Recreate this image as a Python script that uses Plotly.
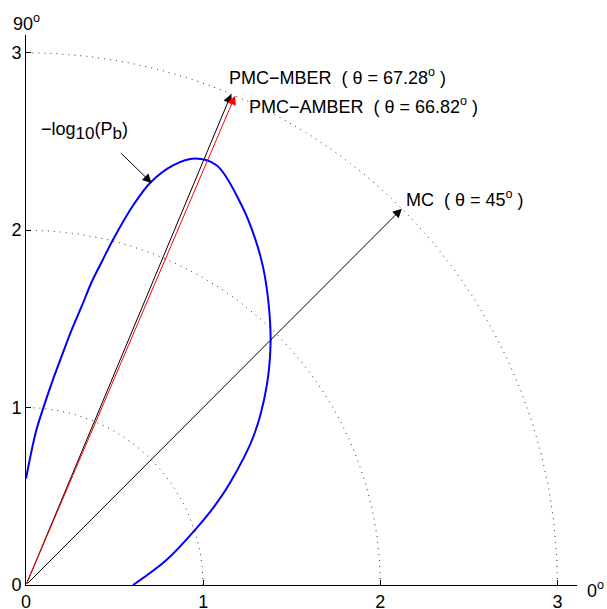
import numpy as np
import plotly.graph_objects as go

# -log10(Pb) versus beamforming angle (degrees)
theta_deg = [0.0, 10.09, 18.16, 22.50, 26.49, 33.17, 39.44, 44.58, 49.04, 53.27, 56.83,
             60.38, 65.55, 68.38, 70.67, 72.77, 74.20, 75.83, 76.75, 77.76, 78.69,
             79.85, 81.06, 82.52, 84.28, 86.34, 90.0]
neg_log_pb = [0.604, 0.805, 1.007, 1.147, 1.285, 1.535, 1.758, 1.938, 2.090, 2.237, 2.353,
              2.462, 2.599, 2.586, 2.507, 2.377, 2.226, 2.009, 1.876, 1.746, 1.601,
              1.459, 1.313, 1.168, 1.013, 0.862, 0.600]

# Arrow directions
arrow_names = ["MC", "PMC\u2212MBER", "PMC\u2212AMBER"]
arrow_theta = [45, 67.28, 66.82]
arrow_theta_text = ["45", "67.28", "66.82"]
arrow_len = [3, 3, 3]
arrow_colors = ["black", "black", "red"]

grid_radii = [1, 2, 3]
tick_vals = [0, 1, 2, 3]

FONT = "Liberation Sans, Arial, Helvetica, sans-serif"

fig = go.Figure()

# dotted range rings
phi = np.linspace(0, np.pi / 2, 200)
for rr in grid_radii:
    fig.add_trace(go.Scatter(x=rr * np.cos(phi), y=rr * np.sin(phi), mode="lines",
                             line=dict(color="#333333", width=1, dash="1px,5px"),
                             hoverinfo="skip", showlegend=False))

th = np.radians(theta_deg)
r = np.array(neg_log_pb)
fig.add_trace(go.Scatter(x=r * np.cos(th), y=r * np.sin(th), mode="lines",
                         line=dict(color="#0000ff", width=2, shape="spline", smoothing=1.0),
                         showlegend=False))

annotations = []
for t, L, c in zip(arrow_theta, arrow_len, arrow_colors):
    tr = np.radians(t)
    annotations.append(dict(x=L * np.cos(tr), y=L * np.sin(tr), ax=0, ay=0,
                            xref="x", yref="y", axref="x", ayref="y", text="",
                            showarrow=True, arrowhead=2, arrowsize=1.8, arrowwidth=1,
                            arrowcolor=c, standoff=0))

label_pos = [(2.134, 2.18), (1.133, 2.868), (1.25, 2.704)]
for name, ts, (lx, ly) in zip(arrow_names, arrow_theta_text, label_pos):
    annotations.append(dict(x=lx, y=ly, xref="x", yref="y", showarrow=False,
                            xanchor="left", yanchor="middle",
                            text=f"{name}  ( \u03b8 = {ts}<sup>o</sup> )",
                            font=dict(family=FONT, size=18, color="black")))

annotations.append(dict(x=0.075, y=2.56, xref="x", yref="y", showarrow=False,
                        xanchor="left", yanchor="middle",
                        text="\u2212log<sub><span style='font-size:17px'>10</span></sub>"
                             "(P<sub><span style='font-size:17px'>b</span></sub>)",
                        font=dict(family=FONT, size=18, color="black")))
annotations.append(dict(x=0.709, y=2.266, ax=0.529, ay=2.441, xref="x", yref="y",
                        axref="x", ayref="y", text="", showarrow=True, arrowhead=2,
                        arrowsize=1.8, arrowwidth=1, arrowcolor="black", standoff=0))

annotations.append(dict(x=0, y=1.022, xref="paper", yref="paper", showarrow=False,
                        xanchor="center", yanchor="middle", text="90<sup>o</sup>",
                        font=dict(family=FONT, size=18, color="black")))
annotations.append(dict(x=1.014, y=-0.008, xref="paper", yref="paper", showarrow=False,
                        xanchor="left", yanchor="middle", text="0<sup>o</sup>",
                        font=dict(family=FONT, size=18, color="black")))

axis_common = dict(showgrid=False, zeroline=False, showline=True, linecolor="black",
                   linewidth=1, ticks="inside", ticklen=5, tickcolor="black",
                   tickvals=tick_vals, automargin=False,
                   tickfont=dict(family=FONT, size=18, color="black"))

fig.update_layout(
    width=607, height=609,
    margin=dict(l=26, r=30, t=35, b=24),
    paper_bgcolor="white", plot_bgcolor="white",
    xaxis=dict(range=[0, 3.11], **axis_common),
    yaxis=dict(range=[0, 3.1], **axis_common),
    annotations=annotations,
    showlegend=False,
)

fig.write_html("out.html")
